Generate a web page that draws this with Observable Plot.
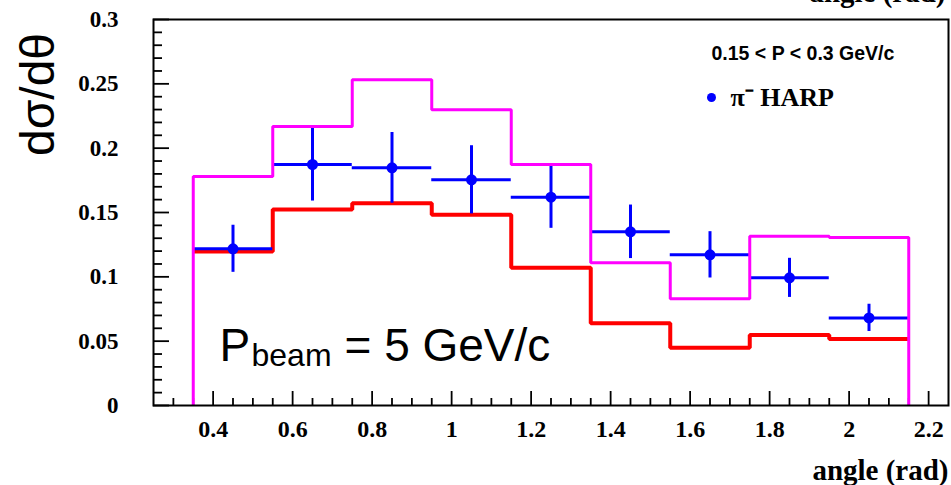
<!DOCTYPE html>
<html><head><meta charset="utf-8">
<script src="https://cdn.jsdelivr.net/npm/d3@7"></script>
<script src="https://cdn.jsdelivr.net/npm/@observablehq/plot@0.6"></script>
<style>body{margin:0;background:#fff}</style>
</head><body><div id="chart"></div>
<script>
// ---- data ----
const binEdges = [0.35, 0.55, 0.75, 0.95, 1.15, 1.35, 1.55, 1.75, 1.95, 2.15];
const harpAngle = [0.45, 0.65, 0.85, 1.05, 1.25, 1.45, 1.65, 1.85, 2.05];
const harpValue = [0.1218, 0.1873, 0.1847, 0.1754, 0.1619, 0.1350, 0.1171, 0.0992, 0.0681];
const harpError = [0.0183, 0.0284, 0.0275, 0.0265, 0.0242, 0.0208, 0.0180, 0.0152, 0.0106];
const harpHalfWidth = [0.1, 0.1, 0.1, 0.1, 0.1, 0.1, 0.1, 0.1, 0.1];
const magentaModel = [0.1780, 0.2168, 0.2531, 0.2298, 0.1873, 0.1109, 0.0829, 0.1316, 0.1306];
const redModel = [0.1197, 0.1523, 0.1572, 0.1482, 0.1070, 0.0640, 0.0448, 0.0547, 0.0516];
const xTickLabels = [0.4, 0.6, 0.8, 1, 1.2, 1.4, 1.6, 1.8, 2, 2.2];
const yTickLabels = [0, 0.05, 0.1, 0.15, 0.2, 0.25, 0.3];
const xMinorTicks = [0.3, 0.35, 0.45, 0.5, 0.55, 0.65, 0.7, 0.75, 0.85, 0.9, 0.95, 1.05, 1.1, 1.15, 1.25, 1.3, 1.35,
  1.45, 1.5, 1.55, 1.65, 1.7, 1.75, 1.85, 1.9, 1.95, 2.05, 2.1, 2.15];
const yMinorTicks = [0.01, 0.02, 0.03, 0.04, 0.06, 0.07, 0.08, 0.09, 0.11, 0.12, 0.13, 0.14, 0.16, 0.17, 0.18, 0.19,
  0.21, 0.22, 0.23, 0.24, 0.26, 0.27, 0.28, 0.29];
const xDomain = [0.25, 2.25];
const yDomain = [0, 0.3];

// ---- derived tables ----
const harp = harpAngle.map((a, i) => ({
  angle: a, value: harpValue[i], lo: harpValue[i] - harpError[i], hi: harpValue[i] + harpError[i],
  x1: a - harpHalfWidth[i], x2: a + harpHalfWidth[i]
}));
function stepPath(values, closeToZero) {
  const pts = [];
  if (closeToZero) pts.push({x: binEdges[0], y: 0});
  values.forEach((v, i) => { pts.push({x: binEdges[i], y: v}); pts.push({x: binEdges[i + 1], y: v}); });
  if (closeToZero) pts.push({x: binEdges[binEdges.length - 1], y: 0});
  return pts;
}
const magentaPts = stepPath(magentaModel, true);
const redPts = stepPath(redModel, false);

const W = 951, H = 485, mL = 153, mR = 3, mT = 19, mB = 80;
const frameW = W - mL - mR, frameH = H - mT - mB;
const pxX = (xDomain[1] - xDomain[0]) / frameW;
const pxY = (yDomain[1] - yDomain[0]) / frameH;
const xTickRows = [
  ...xMinorTicks.map(v => ({x: v, y1: yDomain[0], y2: yDomain[0] + 7 * pxY})),
  ...xTickLabels.map(v => ({x: v, y1: yDomain[0], y2: yDomain[0] + 14 * pxY}))
];
const yTickRows = [
  ...yMinorTicks.map(v => ({y: v, x1: xDomain[0], x2: xDomain[0] + 9 * pxX})),
  ...yTickLabels.map(v => ({y: v, x1: xDomain[0], x2: xDomain[0] + 16 * pxX}))
];
const fmt = d => String(+d.toFixed(2));
const serif = "Liberation Serif, Times New Roman, serif";
const sans = "Liberation Sans, Arial, sans-serif";

const chart = Plot.plot({
  width: W, height: H,
  marginLeft: mL, marginRight: mR, marginTop: mT, marginBottom: mB,
  x: {domain: xDomain, axis: null},
  y: {domain: yDomain, axis: null},
  marks: [
    // inward tick marks
    Plot.ruleX(xTickRows, {x: "x", y1: "y1", y2: "y2", stroke: "#000000", strokeWidth: 1.8}),
    Plot.ruleY(yTickRows, {y: "y", x1: "x1", x2: "x2", stroke: "#000000", strokeWidth: 1.8}),
    // tick labels as text marks on the scales
    Plot.text(xTickLabels, {x: d => d, y: yDomain[0], text: fmt, dy: 24, lineAnchor: "middle", fontSize: 24, fontWeight: "bold", fontFamily: serif, fill: "black"}),
    Plot.text(yTickLabels, {y: d => d, x: xDomain[0], text: fmt, dx: -35, textAnchor: "end", lineAnchor: "middle", fontSize: 23, fontWeight: "bold", fontFamily: serif, fill: "black"}),
    // model histograms and data
    Plot.line(redPts, {x: "x", y: "y", stroke: "#ff0000", strokeWidth: 4, strokeLinejoin: "miter", strokeLinecap: "butt"}),
    Plot.ruleY(harp, {y: "value", x1: "x1", x2: "x2", stroke: "#0000ff", strokeWidth: 3}),
    Plot.ruleX(harp, {x: "angle", y1: "lo", y2: "hi", stroke: "#0000ff", strokeWidth: 3}),
    Plot.dot(harp, {x: "angle", y: "value", r: 5.5, fill: "#0000ff", stroke: "none"}),
    Plot.line(magentaPts, {x: "x", y: "y", stroke: "#ff00ff", strokeWidth: 3, strokeLinejoin: "miter", strokeLinecap: "butt"}),
    Plot.frame({stroke: "black", strokeWidth: 2}),
    // texts
    Plot.text(["dσ/dθ"], {frameAnchor: "top-left", dx: -100, dy: 75, rotate: -90, textAnchor: "middle", lineAnchor: "bottom", fontSize: 48, fontFamily: sans, fill: "black"}),
    Plot.text(["angle (rad)"], {frameAnchor: "bottom-right", dx: 0, dy: 74, textAnchor: "end", lineAnchor: "bottom", fontSize: 29, fontWeight: "bold", fontFamily: serif}),
    Plot.text(["angle (rad)"], {frameAnchor: "top-right", dx: -3, dy: -18, textAnchor: "end", lineAnchor: "bottom", fontSize: 29, fontWeight: "bold", fontFamily: serif}),
    Plot.text(["0.15 < P < 0.3 GeV/c"], {frameAnchor: "top-left", dx: 558, dy: 40, textAnchor: "start", lineAnchor: "bottom", fontSize: 19.5, fontWeight: "bold", fontFamily: sans}),
    Plot.dot([0], {frameAnchor: "top-left", dx: 558, dy: 78, r: 4.5, fill: "#0000ff", stroke: "none"}),
    Plot.text(["π⁻ HARP"], {frameAnchor: "top-left", dx: 577, dy: 86, textAnchor: "start", lineAnchor: "bottom", fontSize: 26, fontWeight: "bold", fontFamily: serif}),
    Plot.text(["P"], {frameAnchor: "top-left", dx: 66, dy: 341, textAnchor: "start", lineAnchor: "bottom", fontSize: 46, fontFamily: sans}),
    Plot.text(["beam"], {frameAnchor: "top-left", dx: 98, dy: 346, textAnchor: "start", lineAnchor: "bottom", fontSize: 32, fontFamily: sans}),
    Plot.text(["= 5 GeV/c"], {frameAnchor: "top-left", dx: 191, dy: 341, textAnchor: "start", lineAnchor: "bottom", fontSize: 46, fontFamily: sans})
  ]
});
document.getElementById("chart").appendChild(chart);
</script>
</body></html>
